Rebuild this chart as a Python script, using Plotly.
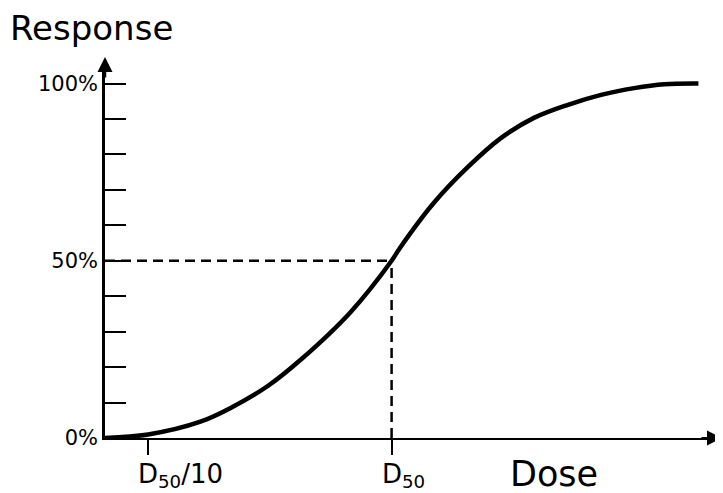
import numpy as np
import plotly.graph_objects as go

# Dose expressed in units of D50 (log axis), response in percent
dose = [0.0665, 0.1, 0.164, 0.224, 0.309, 0.422, 0.678, 1.0, 1.089,
        1.489, 2.054, 2.81, 3.84, 5.30, 7.25, 9.91, 13.2, 18.2]
response = [0.0, 1.0, 4.6, 8.9, 14.6, 22.0, 35.5, 50.0, 53.9,
            66.3, 76.4, 84.6, 90.3, 94.0, 96.8, 98.7, 99.8, 100.0]

y_tickvals = list(range(0, 101, 10))
y_ticktext = ["0%", "", "", "", "", "50%", "", "", "", "", "100%"]
x_tickvals = [0.1, 1.0]
x_ticklabels = ["D<sub>50</sub>/10", "D<sub>50</sub>"]
d50 = 1.0
half = 50.0

FONT = "DejaVu Sans"
# page has an 8px body margin; figure sized to fill the rest of the window
W, H = 715, 485
L, R, T, B = 97, 8, 62, 55
y100_px = 83.5 - 8
y_top = ((H - B) - T) / ((H - B) - y100_px) * 100
x_left_log = -1.177
x_right_log = x_left_log + (W - L - R) / 243.5

fig = go.Figure()
fig.add_trace(go.Scatter(
    x=dose, y=response, mode="lines",
    line=dict(color="black", width=4.5, shape="spline", smoothing=1.0),
    hoverinfo="skip", showlegend=False,
))

# dashed guide lines
d50_frac = (np.log10(d50) - x_left_log) / (x_right_log - x_left_log)
fig.add_shape(type="line", xref="paper", yref="y", x0=0, x1=d50_frac,
              y0=half, y1=half, line=dict(color="black", width=2.5, dash="10px,6px"), layer="below")
fig.add_shape(type="line", xref="paper", yref="y", x0=d50_frac, x1=d50_frac,
              y0=0, y1=half, line=dict(color="black", width=2.5, dash="10px,6px"), layer="below")

# axis arrows
fig.add_annotation(x=0, y=1, xref="paper", yref="paper", yshift=13, ax=0, ay=22,
                   text="", showarrow=True, arrowhead=2, arrowsize=1.2, arrowwidth=2.5,
                   arrowcolor="black")
fig.add_annotation(x=1, y=0, xref="paper", yref="paper", xshift=7, ax=-22, ay=0,
                   text="", showarrow=True, arrowhead=2, arrowsize=1.5, arrowwidth=2,
                   arrowcolor="black")

# x tick labels
for v, t in zip(x_tickvals, x_ticklabels):
    fig.add_annotation(x=np.log10(v), y=0, xref="x", yref="paper", text=t,
                       showarrow=False, xanchor="left", yanchor="top", xshift=-12, yshift=-19,
                       font=dict(family=FONT, size=26, color="black"))

# axis titles
fig.add_annotation(x=0, y=1, xref="paper", yref="paper", text="Response", showarrow=False,
                   xanchor="left", yanchor="bottom", xshift=-97, yshift=20,
                   font=dict(family=FONT, size=34, color="black"))
fig.add_annotation(x=0, y=0, xref="paper", yref="paper", text="Dose", showarrow=False,
                   xanchor="left", yanchor="top", xshift=403, yshift=-14,
                   font=dict(family=FONT, size=35, color="black"))

fig.update_layout(
    width=W, height=H,
    margin=dict(l=L, r=R, t=T, b=B),
    paper_bgcolor="white", plot_bgcolor="white",
    showlegend=False,
    font=dict(family=FONT, color="black"),
    xaxis=dict(type="log", range=[x_left_log, x_right_log], showgrid=False, zeroline=False,
               showline=True, linecolor="black", linewidth=2,
               tickmode="array", tickvals=x_tickvals, ticktext=["", ""],
               ticks="outside", ticklen=15, tickwidth=2, tickcolor="black"),
    yaxis=dict(range=[0, y_top], showgrid=False, zeroline=False,
               showline=True, linecolor="black", linewidth=2.5,
               tickmode="array", tickvals=y_tickvals, ticktext=y_ticktext,
               ticks="inside", ticklen=21, tickwidth=2, tickcolor="black",
               tickfont=dict(family=FONT, size=21, color="black")),
)

fig.write_html("out.html")
